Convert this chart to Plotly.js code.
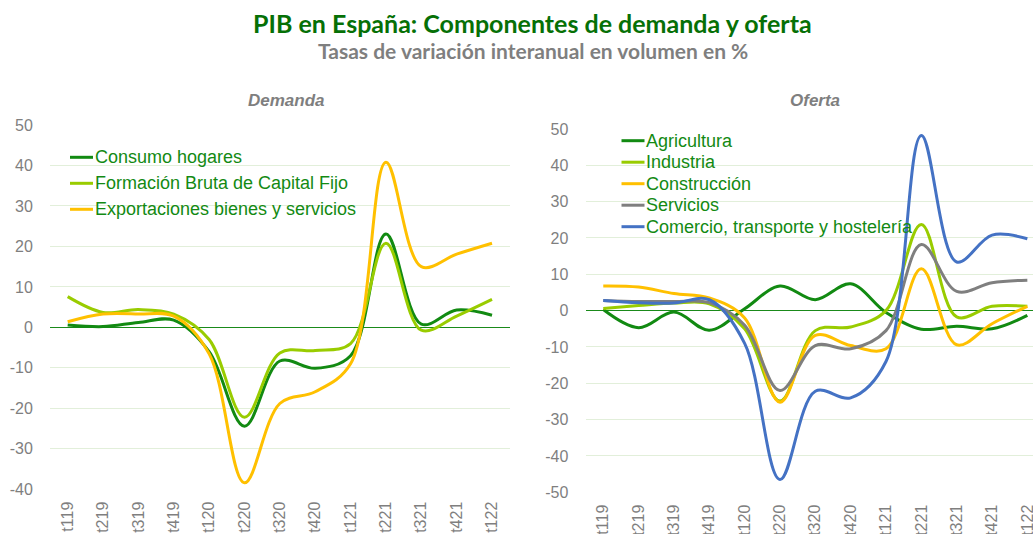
<!DOCTYPE html>
<html>
<head>
<meta charset="utf-8">
<script src="https://cdn.plot.ly/plotly-3.0.1.min.js"></script>
<style>html,body{margin:0;padding:0;background:#fff;}#chart{width:1033px;height:534px;}</style>
</head>
<body>
<div id="chart"></div>
<script>
// ---- data ----
const quarters = ["t119","t219","t319","t419","t120","t220","t320","t420","t121","t221","t321","t421","t122"];

const demandaNames = ["Consumo hogares", "Formación Bruta de Capital Fijo", "Exportaciones bienes y servicios"];
const consumoHogares = [0.6, 0.2, 1.2, 1.8, -6.0, -24.4, -8.3, -10.1, -7.0, 23.1, 0.8, 4.3, 3.0];
const formacionBruta = [7.6, 3.7, 4.4, 3.3, -3.0, -22.2, -6.3, -5.7, -4.0, 20.8, -0.7, 2.8, 6.9];
const exportaciones = [1.4, 3.3, 3.3, 2.8, -6.5, -38.4, -18.8, -15.9, -9.0, 40.8, 15.0, 18.1, 20.8];

const ofertaNames = ["Agricultura", "Industria", "Construcción", "Servicios", "Comercio, transporte y hostelería"];
const agricultura = [0.3, -4.7, -0.4, -5.4, 0.5, 6.8, 3.0, 7.4, -0.5, -5.1, -4.3, -5.0, -1.3];
const industria = [0.6, 1.4, 2.1, 1.9, -5.0, -24.9, -5.5, -4.5, 0.0, 23.7, -1.7, 1.2, 1.2];
const construccion = [6.8, 6.5, 4.7, 3.5, -2.0, -25.2, -6.8, -9.6, -10.5, 11.5, -9.4, -3.6, 1.2];
const servicios = [2.8, 2.5, 2.5, 2.2, -4.0, -22.0, -9.6, -10.5, -5.5, 18.2, 5.3, 7.7, 8.4];
const comercio = [2.8, 2.2, 2.1, 3.0, -9.0, -46.5, -22.2, -24.0, -14.0, 48.2, 13.4, 20.8, 19.8];

const demandaTicks = [-40, -30, -20, -10, 0, 10, 20, 30, 40, 50];
const demandaTickLabels = ["-40", "-30", "-20", "-10", "0", "10", "20", "30", "40", "50"];
const ofertaTicks = [-50, -40, -30, -20, -10, 0, 10, 20, 30, 40, 50];
const ofertaTickLabels = ["-50", "-40", "-30", "-20", "-10", "0", "10", "20", "30", "40", "50"];

const demandaColors = ["#128a12", "#99cc00", "#ffc000"];
const ofertaColors = ["#128a12", "#99cc00", "#ffc000", "#7f7f7f", "#4472c4"];

// ---- helpers ----
const W = 1033, H = 534;
const px = x => x / W;
const py = y => 1 - y / H;

const demandaSeries = [consumoHogares, formacionBruta, exportaciones];
const ofertaSeries = [agricultura, industria, construccion, servicios, comercio];

const traces = [];
demandaSeries.forEach((s, i) => traces.push({
  x: quarters, y: s, type: "scatter", mode: "lines", name: demandaNames[i],
  xaxis: "x", yaxis: "y", showlegend: false,
  line: {color: demandaColors[i], width: 3, shape: "spline", smoothing: 1}
}));
ofertaSeries.forEach((s, i) => traces.push({
  x: quarters, y: s, type: "scatter", mode: "lines", name: ofertaNames[i],
  xaxis: "x2", yaxis: "y2", showlegend: false,
  line: {color: ofertaColors[i], width: 3, shape: "spline", smoothing: 1}
}));

const tickFont = {family: "Liberation Sans, Arial, sans-serif", size: 16, color: "#7f7f7f"};
const gridColor = "#e2efda";
const zeroColor = "#1a8a1a";
const legendGreen = "#138a13";

function xaxisCfg(domain, range) {
  return {
    type: "category", domain: domain, range: range,
    showgrid: false, showline: false, zeroline: false,
    tickangle: -90, tickfont: tickFont,
    ticks: "outside", ticklen: 5, tickcolor: "rgba(0,0,0,0)",
    fixedrange: true
  };
}
function yaxisCfg(domain, range, vals, labels) {
  return {
    domain: domain, range: range, tickmode: "array", tickvals: vals, ticktext: labels,
    showgrid: true, gridcolor: gridColor, gridwidth: 1,
    zeroline: true, zerolinecolor: zeroColor, zerolinewidth: 1,
    showline: false, tickfont: tickFont,
    ticks: "outside", ticklen: 13, tickcolor: "rgba(0,0,0,0)",
    fixedrange: true
  };
}

const annotations = [
  {text: "<b>PIB en España: Componentes de demanda y oferta</b>", x: px(532), y: py(23),
   xref: "paper", yref: "paper", xanchor: "center", yanchor: "middle", showarrow: false,
   font: {family: "Lato, sans-serif", size: 25, color: "#067006"}},
  {text: "<b>Tasas de variación interanual en volumen en %</b>", x: px(533), y: py(50),
   xref: "paper", yref: "paper", xanchor: "center", yanchor: "middle", showarrow: false,
   font: {family: "Lato, sans-serif", size: 21, color: "#7f7f7f"}},
  {text: "<b><i>Demanda</i></b>", x: px(286), y: py(100),
   xref: "paper", yref: "paper", xanchor: "center", yanchor: "middle", showarrow: false,
   font: {family: "Liberation Sans, Arial, sans-serif", size: 17, color: "#7f7f7f"}},
  {text: "<b><i>Oferta</i></b>", x: px(815), y: py(100),
   xref: "paper", yref: "paper", xanchor: "center", yanchor: "middle", showarrow: false,
   font: {family: "Liberation Sans, Arial, sans-serif", size: 17, color: "#7f7f7f"}}
];
const shapes = [];

// manual legends
function addLegend(names, colors, x0, x1, xText, yStart, step) {
  names.forEach((n, i) => {
    const yy = yStart + i * step;
    shapes.push({type: "line", xref: "paper", yref: "paper", x0: px(x0), x1: px(x1), y0: py(yy), y1: py(yy),
      line: {color: colors[i], width: 3}});
    annotations.push({text: n, x: px(xText), y: py(yy), xref: "paper", yref: "paper",
      xanchor: "left", yanchor: "middle", showarrow: false,
      font: {family: "Liberation Sans, Arial, sans-serif", size: 18, color: legendGreen}});
  });
}
addLegend(demandaNames, demandaColors, 70, 93, 93, 157.3, 26);
addLegend(ofertaNames, ofertaColors, 621.5, 644.5, 644, 140.7, 21.5);

const layout = {
  width: W, height: H,
  margin: {l: 0, r: 0, t: 0, b: 0},
  paper_bgcolor: "#ffffff", plot_bgcolor: "rgba(0,0,0,0)",
  showlegend: false,
  xaxis: Object.assign(xaxisCfg([px(50), px(509.7)], [-0.5, 12.5]), {anchor: "y"}),
  yaxis: Object.assign(yaxisCfg([py(489.3), py(125)], [-40, 50], demandaTicks, demandaTickLabels), {anchor: "x"}),
  xaxis2: Object.assign(xaxisCfg([px(585.6), 1], [-0.5, 12.16]), {anchor: "y2"}),
  yaxis2: Object.assign(yaxisCfg([py(492.3), py(129)], [-50, 50], ofertaTicks, ofertaTickLabels), {anchor: "x2"}),
  annotations: annotations,
  shapes: shapes
};

Plotly.newPlot("chart", traces, layout, {displayModeBar: false, staticPlot: true});
</script>
</body>
</html>
